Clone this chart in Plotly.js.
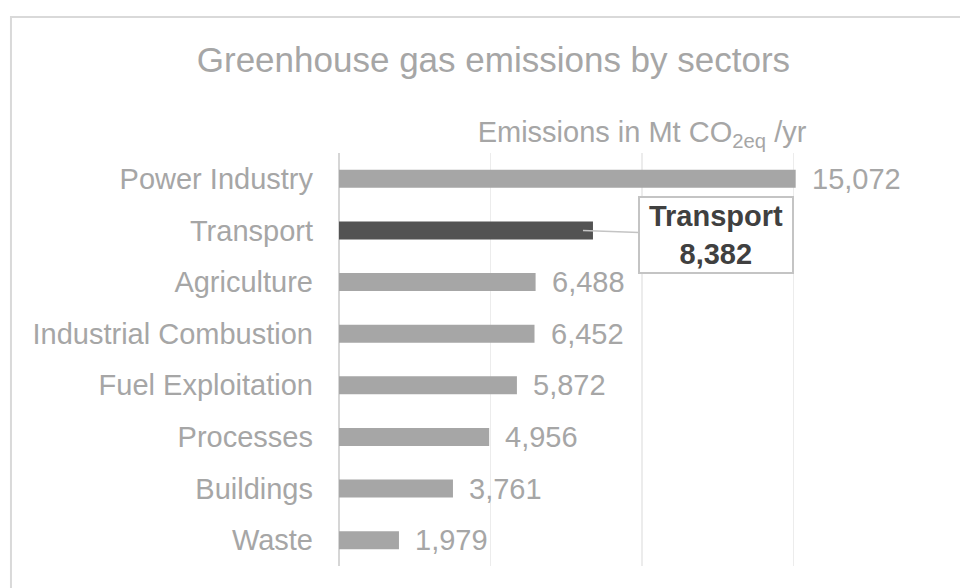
<!DOCTYPE html>
<html>
<head>
<meta charset="utf-8">
<script src="https://cdn.plot.ly/plotly-3.0.1.min.js"></script>
<style>
  html, body { margin: 0; padding: 0; background: #ffffff; }
  #chart { width: 960px; height: 588px; }
</style>
</head>
<body>
<div id="chart"></div>
<script>
const sectors = ["Power Industry", "Transport", "Agriculture", "Industrial Combustion",
                 "Fuel Exploitation", "Processes", "Buildings", "Waste"];
const emissions = [15072, 8382, 6488, 6452, 5872, 4956, 3761, 1979];
const highlight = "Transport";
const xTicks = [0, 5000, 10000, 15000, 20000];

const fmt = v => v.toLocaleString("en-US");
const barColors = sectors.map(s => s === highlight ? "#535353" : "#a6a6a6");

const trace = {
  type: "bar",
  orientation: "h",
  x: emissions,
  y: sectors,
  marker: { color: barColors },
  hoverinfo: "x+y"
};

const annotations = [];
sectors.forEach((s, i) => {
  if (s === highlight) {
    annotations.push({
      x: emissions[i], y: s, xref: "x", yref: "y",
      text: "<b>" + s + "</b><br><b>" + fmt(emissions[i]) + "</b>",
      showarrow: true, arrowhead: 0, arrowwidth: 1.5, arrowcolor: "#c4c4c4",
      ax: 133, ay: 5, standoff: 0, startstandoff: 0,
      xshift: -10,
      bgcolor: "#ffffff", bordercolor: "#c4c4c4", borderwidth: 2,
      width: 150, height: 72, align: "center",
      font: { family: "Liberation Sans, Arial, sans-serif", size: 29, color: "#404040" }
    });
  } else {
    annotations.push({
      x: emissions[i], y: s, xref: "x", yref: "y",
      text: fmt(emissions[i]), showarrow: false,
      xanchor: "left", yanchor: "middle", xshift: 14, yshift: 0,
      font: { family: "Liberation Sans, Arial, sans-serif", size: 29, color: "#a6a6a6" }
    });
  }
});

const layout = {
  width: 960, height: 588,
  margin: { l: 339, r: 15, t: 153, b: 22, pad: 0 },
  paper_bgcolor: "#ffffff", plot_bgcolor: "#ffffff",
  showlegend: false,
  bargap: 0.65,
  font: { family: "Liberation Sans, Arial, sans-serif", color: "#a6a6a6" },
  title: {
    text: "Greenhouse gas emissions by sectors",
    xref: "container", x: 0.514, xanchor: "center",
    yref: "container", y: 0.898, yanchor: "middle",
    font: { family: "Liberation Sans, Arial, sans-serif", size: 35, color: "#a6a6a6" }
  },
  xaxis: {
    side: "top",
    range: [0, 20000],
    tickvals: xTicks,
    showticklabels: false,
    showgrid: true, gridcolor: "#ececec", gridwidth: 1.5,
    zeroline: true, zerolinecolor: "#d6d6d6", zerolinewidth: 2,
    showline: false, ticks: "",
    fixedrange: true,
    title: {
      text: "Emissions in Mt CO<sub>2eq</sub> /yr",
      standoff: 0,
      font: { family: "Liberation Sans, Arial, sans-serif", size: 29, color: "#a6a6a6" }
    }
  },
  yaxis: {
    type: "category",
    categoryorder: "array", categoryarray: sectors,
    autorange: "reversed",
    showgrid: false, zeroline: false, showline: false, ticks: "",
    ticklabelstandoff: 25,
    tickfont: { family: "Liberation Sans, Arial, sans-serif", size: 29, color: "#a6a6a6" },
    fixedrange: true
  },
  annotations: annotations,
  shapes: [{
    type: "rect", xref: "paper", yref: "paper", layer: "below",
    x0: -0.5413, x1: 1.06, y0: -0.1, y1: 1.329,
    line: { color: "#d9d9d9", width: 2 }, fillcolor: "rgba(0,0,0,0)"
  }]
};

Plotly.newPlot("chart", [trace], layout, { displayModeBar: false, staticPlot: true });
</script>
</body>
</html>
